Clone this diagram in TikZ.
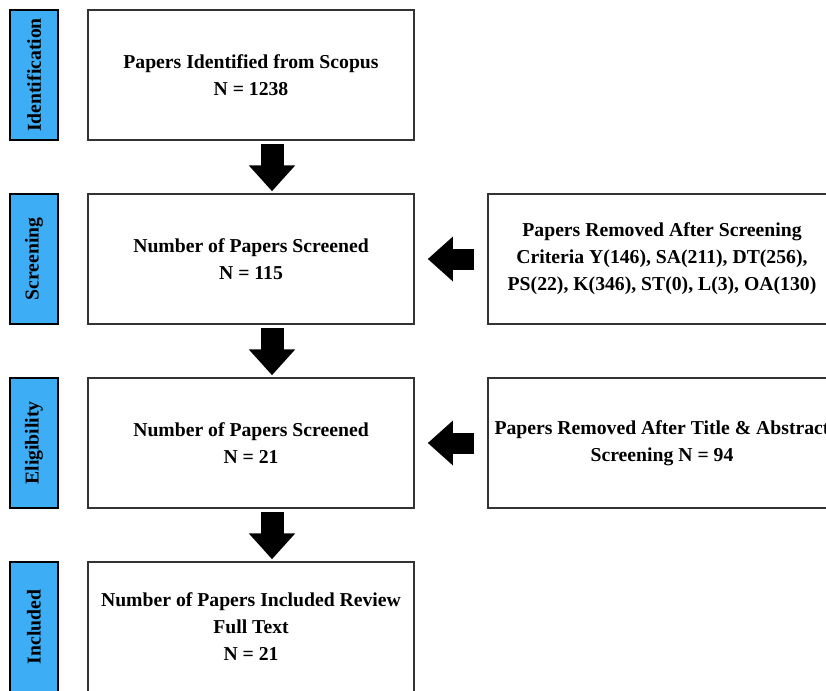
\documentclass[tikz,border=0pt]{standalone}
\usepackage{fontspec}
\setmainfont{Liberation Serif}
\usetikzlibrary{positioning,arrows.meta}
\definecolor{stageblue}{RGB}{61,174,245}
\tikzset{
  box/.style={draw=black!80, line width=1.5pt, minimum width=326pt, minimum height=130pt,
    align=center, inner sep=0pt, font=\fontsize{19.7}{27}\selectfont\bfseries},
  sidebox/.style={box, minimum width=348pt},
  stage/.style={draw=black, fill=stageblue, line width=1.5pt, minimum width=130pt,
    minimum height=48pt, inner sep=0pt, rotate=90, font=\fontsize{19.7}{27}\selectfont\bfseries},
  fatdown/.style={line width=23pt, -{Triangle[width=45pt,length=26pt]}, shorten <=3pt, shorten >=2pt},
  fatleft/.style={line width=21pt, -{Triangle[width=43pt,length=25pt]}, shorten <=13pt, shorten >=13pt},
}
\begin{document}
\begin{tikzpicture}[node distance=184pt,on grid]
    \useasboundingbox (0,0) rectangle (826pt,-690pt);
    \fill[white] (0,0) rectangle (826pt,-690pt);
    \clip (0,0) rectangle (826pt,-690pt);
    % main column
    \node[box] (id) at (251pt,-75pt) {Papers Identified from Scopus\\N = 1238};
    \node[box] (scr) [below=of id] {Number of Papers Screened\\N = 115};
    \node[box] (elig) [below=of scr] {Number of Papers Screened\\N = 21};
    \node[box] (incl) [below=of elig] {Number of Papers Included Review\\Full Text\\N = 21};
    % stages
    \node[stage] (s_id) [left=217pt of id] {Identification};
    \node[stage] (s_scr) [left=217pt of scr] {Screening};
    \node[stage] (s_elig) [left=217pt of elig] {Eligibility};
    \node[stage] (s_incl) [left=217pt of incl] {Included};
    % removed papers
    \node[sidebox] (rm_scr) [right=411pt of scr] {Papers Removed After Screening\\Criteria Y(146), SA(211), DT(256),\\PS(22), K(346), ST(0), L(3), OA(130)};
    \node[sidebox] (rm_elig) [right=411pt of elig] {Papers Removed After Title \& Abstract\\Screening N = 94};
    % arrows
    \draw[fatdown] ([xshift=21pt]id.south) -- ([xshift=21pt]scr.north);
    \draw[fatdown] ([xshift=21pt]scr.south) -- ([xshift=21pt]elig.north);
    \draw[fatdown] ([xshift=21pt]elig.south) -- ([xshift=21pt]incl.north);
    \draw[fatleft] (rm_scr.west) -- (scr.east);
    \draw[fatleft] (rm_elig.west) -- (elig.east);
\end{tikzpicture}
\end{document}
